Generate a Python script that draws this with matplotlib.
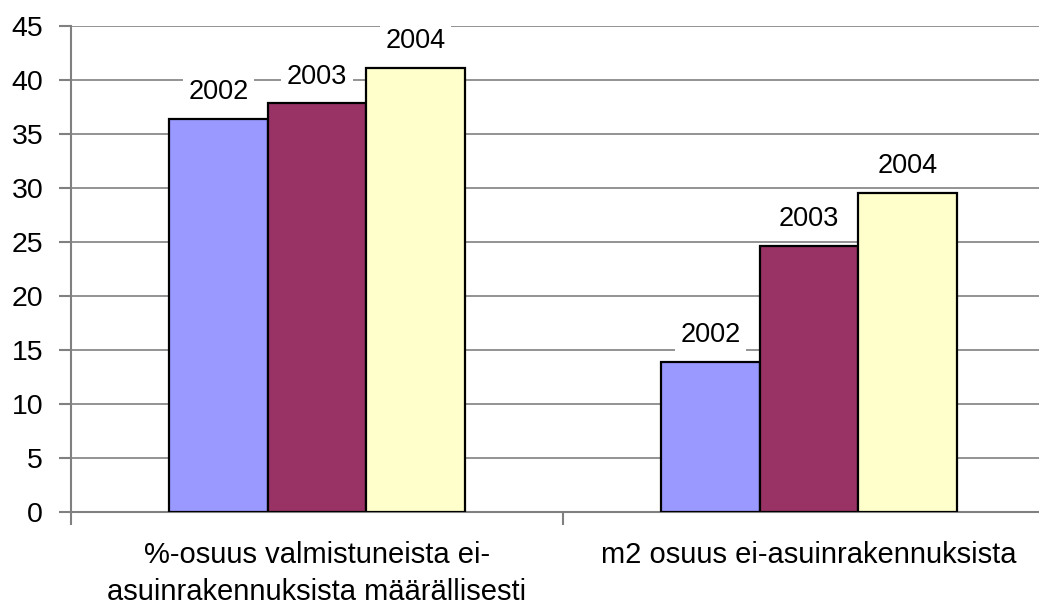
import matplotlib
matplotlib.use("Agg")
import matplotlib.pyplot as plt
import numpy as np

plt.rcParams["font.family"] = ["Liberation Sans", "DejaVu Sans"]

categories = ["%-osuus valmistuneista ei-\nasuinrakennuksista määrällisesti",
              "m2 osuus ei-asuinrakennuksista"]
years = ["2002", "2003", "2004"]
values = {
    "2002": [36.4, 13.9],
    "2003": [37.8, 24.6],
    "2004": [41.1, 29.5],
}
colors = ["#9999FF", "#993366", "#FFFFCC"]
yticks = [0, 5, 10, 15, 20, 25, 30, 35, 40, 45]

W, H = 1039, 604
fig = plt.figure(figsize=(W / 100, H / 100), dpi=100)
# axes runs past the right edge of the image, like the cropped original
x0, x1 = 71, 1055
y0, y1 = 512, 25.6
ax = fig.add_axes([x0 / W, 1 - y0 / H, (x1 - x0) / W, (y0 - y1) / H])

AX_GRAY = "#808080"
bar_w = 0.2
x = np.arange(len(categories))
for i, yr in enumerate(years):
    xs = x + (i - 1) * bar_w
    ax.bar(xs, values[yr], width=bar_w, color=colors[i], edgecolor="black",
           linewidth=1.6, zorder=3)
    for xi, v in zip(xs, values[yr]):
        ax.annotate(yr, (xi, v), xytext=(0, 10), textcoords="offset points",
                    ha="center", va="bottom", fontsize=19.5, zorder=4,
                    bbox=dict(boxstyle="square,pad=0.2", fc="white", ec="none"))

ax.set_xlim(-0.5, 1.5)
ax.set_ylim(0, 45)
ax.set_yticks(yticks)
ax.set_yticklabels([str(t) for t in yticks], fontsize=20.5)
ax.yaxis.grid(True, color=AX_GRAY, linewidth=1.2, zorder=0)
ax.set_axisbelow(True)

ax.set_xticks([-0.5, 0.5, 1.5])
ax.set_xticklabels([])
ax.set_xticks(x, minor=True)
ax.set_xticklabels(categories, minor=True, fontsize=21, linespacing=1.4)
ax.tick_params(axis="x", which="minor", length=0, pad=21)
ax.tick_params(axis="x", which="major", length=9, width=1.5, color=AX_GRAY)
ax.tick_params(axis="y", length=9, width=1.5, color=AX_GRAY, pad=11)

for s in ["top", "right"]:
    ax.spines[s].set_visible(False)
for s in ["left", "bottom"]:
    ax.spines[s].set_color(AX_GRAY)
    ax.spines[s].set_linewidth(1.5)

fig.savefig("out.png", dpi=100)
